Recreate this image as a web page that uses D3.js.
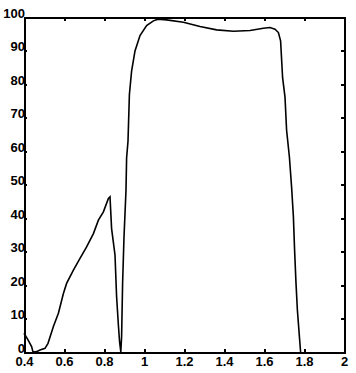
<!DOCTYPE html>
<html>
<head>
<meta charset="utf-8">
<script src="https://cdn.jsdelivr.net/npm/d3@7"></script>
<style>
  body { margin: 0; background: #fff; }
  svg { display: block; }
  .tick text { font-family: "Liberation Sans", Arial, sans-serif; font-weight: bold; font-size: 13px; fill: #000; }
</style>
</head>
<body>
<div id="chart-area"></div>
<script>
// --- Data ---
var wavelength = [0.40, 0.42, 0.438, 0.445, 0.463, 0.48, 0.505, 0.52, 0.547, 0.572, 0.597, 0.613,
  0.647, 0.68, 0.713, 0.747, 0.772, 0.797, 0.822, 0.83, 0.838, 0.855, 0.863, 0.872, 0.878, 0.884,
  0.888, 0.893, 0.90, 0.91, 0.913, 0.92, 0.927, 0.938, 0.955, 0.98, 1.013, 1.047, 1.07, 1.113,
  1.197, 1.28, 1.363, 1.447, 1.53, 1.597, 1.63, 1.655, 1.672, 1.683, 1.693, 1.705, 1.713, 1.727,
  1.738, 1.747, 1.753, 1.76, 1.767, 1.777, 1.783];
var response = [5.6, 3.6, 1.6, 0, 0.1, 0.6, 1.1, 2.6, 7.6, 11.6, 17.5, 20.5,
  24.5, 28, 31.4, 35.4, 39.4, 41.9, 45.9, 46.4, 36.9, 29, 16.5, 8, 3, 0,
  4.6, 20.5, 34.4, 48.4, 58, 63, 77, 84, 90, 94.6, 97.6, 99, 99.5, 99.3,
  98.6, 97.3, 96.3, 95.9, 96.1, 96.8, 97, 96.5, 95.5, 93, 82, 76.2, 66.3, 58.3,
  49.3, 40.4, 30.4, 20.6, 12.5, 4.6, 0];
var xTicks = [0.4, 0.6, 0.8, 1, 1.2, 1.4, 1.6, 1.8, 2];
var yTicks = [0, 10, 20, 30, 40, 50, 60, 70, 80, 90, 100];

// --- Setup the canvas ---
var margins = {top: 17.5, bottom: 21, left: 24, right: 12};
var width = 356 - margins.left - margins.right;
var height = 373 - margins.top - margins.bottom;

var group = d3.select("#chart-area").append("svg")
    .attr("width", 356)
    .attr("height", 373)
    .append("g")
        .attr("transform", "translate(" + margins.left + ", " + margins.top + ")");

// --- Scales ---
var x = d3.scaleLinear().domain([0.4, 2]).range([0, width]);
var y = d3.scaleLinear().domain([0, 100]).range([height, 0]);

// --- Axes (ticks point inward, box on all sides) ---
var fmt = function(d) { return d3.format("~g")(d); };

var xAxisGroup = group.append("g")
    .attr("transform", "translate(0, " + height + ")")
    .call(d3.axisBottom(x).tickValues(xTicks).tickSize(-3).tickPadding(5).tickFormat(fmt));

var yAxisGroup = group.append("g")
    .call(d3.axisLeft(y).tickValues(yTicks).tickSize(-3).tickPadding(-1).tickFormat(fmt));

var topAxis = group.append("g")
    .call(d3.axisTop(x).tickValues(xTicks).tickSize(-3).tickFormat(""));

var rightAxis = group.append("g")
    .attr("transform", "translate(" + width + ", 0)")
    .call(d3.axisRight(y).tickValues(yTicks).tickSize(-3).tickFormat(""));

group.selectAll(".domain")
    .attr("stroke", "#000")
    .attr("stroke-width", 2)
    .attr("shape-rendering", "crispEdges");
group.selectAll(".tick line")
    .attr("stroke", "#000")
    .attr("stroke-width", 2)
    .attr("shape-rendering", "crispEdges");

yAxisGroup.selectAll(".tick text").attr("dy", "0em");

// --- The curve ---
var points = wavelength.map(function(d, i) { return [d, response[i]]; });
var line = d3.line()
    .x(function(d) { return x(d[0]); })
    .y(function(d) { return y(d[1]); });

group.append("path")
    .datum(points)
    .attr("fill", "none")
    .attr("stroke", "#000")
    .attr("stroke-width", 1.6)
    .attr("d", line);
</script>
</body>
</html>
